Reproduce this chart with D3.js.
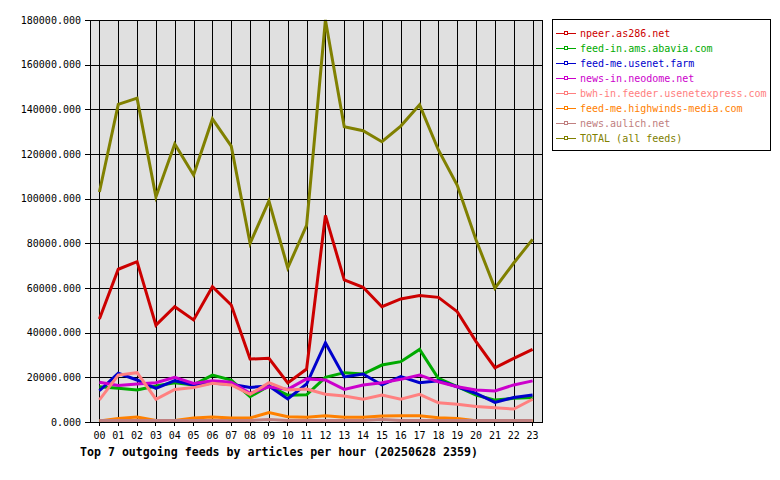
<!DOCTYPE html>
<html><head><meta charset="utf-8">
<script src="https://cdn.jsdelivr.net/npm/d3@7"></script>
<style>body{margin:0;background:#fff}svg{display:block}</style>
</head><body>
<script>
const hours = ["00","01","02","03","04","05","06","07","08","09","10","11","12","13","14","15","16","17","18","19","20","21","22","23"];
const seriesNames = ["npeer.as286.net","feed-in.ams.abavia.com","feed-me.usenet.farm","news-in.neodome.net","bwh-in.feeder.usenetexpress.com","feed-me.highwinds-media.com","news.aulich.net","TOTAL (all feeds)"];
const seriesColors = ["#cc0000","#00aa00","#0000cc","#cc00cc","#ff8080","#ff8000","#c08080","#808000"];
const npeer   = [46100,68400,71800,43400,51600,45700,60600,52400,28200,28500,17500,23700,92500,63600,60300,51600,55100,56600,55800,49400,36000,24300,28500,32500];
const abavia  = [15800,15100,14300,16100,17600,16600,21000,18800,11300,16100,12000,12200,20000,22100,21500,25500,27000,32500,19500,15800,12100,9800,10600,11000];
const usfarm  = [14000,21800,18800,15100,18500,16600,17300,16900,15500,16100,10300,17000,35500,20200,21500,16600,20300,17600,18500,15800,12800,8800,11000,12100];
const neodome = [17800,16300,17000,17600,20000,17300,18500,17800,12800,15800,14600,19300,18800,14600,16600,17600,19100,21000,18000,15800,14300,13900,16600,18400];
const uexpress= [9900,21000,22100,10200,14600,15400,17300,16600,12400,17600,14300,14800,12400,11600,10200,12100,10200,12400,8600,7900,6900,6400,5800,10200];
const highwinds=[500,1600,2200,700,700,1800,2200,1800,1800,4200,2400,2100,2800,2100,2100,2700,2800,2800,1900,1600,600,500,500,500];
const aulich  = [700,700,700,700,700,700,700,700,700,1100,700,700,700,700,700,1100,700,700,700,700,700,700,700,700];
const total   = [103000,142200,145000,100800,124500,110600,135700,123500,80000,99000,69000,88000,180000,132200,130400,125500,132500,142000,121800,106000,81500,59900,71200,81800];
const yTicks  = [0,20000,40000,60000,80000,100000,120000,140000,160000,180000];
const title = "Top 7 outgoing feeds by articles per hour (20250628 2359)";

const allSeries = [npeer,abavia,usfarm,neodome,uexpress,highwinds,aulich,total];

const W=780,H=480, L=90, R=542, T=20, B=422;
const svg = d3.select("body").append("svg").attr("width",W).attr("height",H);
const font = "'DejaVu Sans Mono', 'Liberation Mono', monospace";

const x = d3.scaleBand().domain(hours).range([L,R]).paddingInner(0).paddingOuter(0);
const cx = h => x(h) + x.bandwidth()/2;
const y = d3.scaleLinear().domain([0,180000]).range([B,T]);

svg.append("rect").attr("x",L).attr("y",T).attr("width",R-L).attr("height",B-T).attr("fill","#e0e0e0");

// grid
const g = svg.append("g").attr("shape-rendering","crispEdges");
g.selectAll("line.v").data(hours).join("line")
  .attr("x1",d=>Math.round(cx(d))+0.5).attr("x2",d=>Math.round(cx(d))+0.5)
  .attr("y1",T).attr("y2",B).attr("stroke","#000").attr("stroke-width",1);
g.selectAll("line.h").data(yTicks).join("line")
  .attr("x1",L).attr("x2",R).attr("y1",d=>Math.round(y(d))+0.5).attr("y2",d=>Math.round(y(d))+0.5)
  .attr("stroke","#000").attr("stroke-width",1);

// axes
const yAxis = d3.axisLeft(y).tickValues(yTicks).tickSize(5).tickPadding(4).tickFormat(d=>d3.format(".3f")(d));
const ya = svg.append("g").attr("transform",`translate(${L},0)`).call(yAxis);
ya.select(".domain").remove();
ya.selectAll("text").attr("font-family",font).attr("font-size",10).attr("fill","#000");
ya.selectAll("line").attr("stroke","#000").attr("shape-rendering","crispEdges");

const xAxis = d3.axisBottom(x).tickSize(4).tickPadding(6);
const xa = svg.append("g").attr("transform",`translate(0,${B})`).call(xAxis);
xa.select(".domain").remove();
xa.selectAll("text").attr("font-family",font).attr("font-size",10).attr("fill","#000");
xa.selectAll("line").attr("stroke","#000").attr("shape-rendering","crispEdges");

// lines
const line = d3.line().x((d,i)=>cx(hours[i])).y(d=>y(d));
svg.append("g").selectAll("path").data(allSeries).join("path")
  .attr("d",d=>line(d)).attr("fill","none")
  .attr("stroke",(d,i)=>seriesColors[i]).attr("stroke-width",3).attr("stroke-linejoin","miter");

// border
svg.append("rect").attr("x",L+0.5).attr("y",T+0.5).attr("width",R-L).attr("height",B-T)
  .attr("fill","none").attr("stroke","#000").attr("stroke-width",1).attr("shape-rendering","crispEdges");

// legend
const lg = svg.append("g");
lg.append("rect").attr("x",552.5).attr("y",19.5).attr("width",218).attr("height",131)
  .attr("fill","#fff").attr("stroke","#000").attr("shape-rendering","crispEdges");
const items = lg.selectAll("g.item").data(seriesNames).join("g")
  .attr("transform",(d,i)=>`translate(0,${33+i*15})`);
items.append("line").attr("x1",556).attr("x2",576).attr("y1",0.5).attr("y2",0.5)
  .attr("stroke",(d,i)=>seriesColors[i]).attr("stroke-width",1).attr("shape-rendering","crispEdges");
items.append("rect").attr("x",564.5).attr("y",-1.5).attr("width",3).attr("height",3)
  .attr("fill","#fff").attr("stroke",(d,i)=>seriesColors[i]).attr("shape-rendering","crispEdges");
items.append("text").attr("x",580).attr("y",4).text(d=>d)
  .attr("font-family",font).attr("font-size",10).attr("fill",(d,i)=>seriesColors[i]);

// title
svg.append("text").attr("x",80).attr("y",456).text(title)
  .attr("font-family",font).attr("font-size",11.6).attr("font-weight","bold").attr("fill","#000");
</script>
</body></html>
